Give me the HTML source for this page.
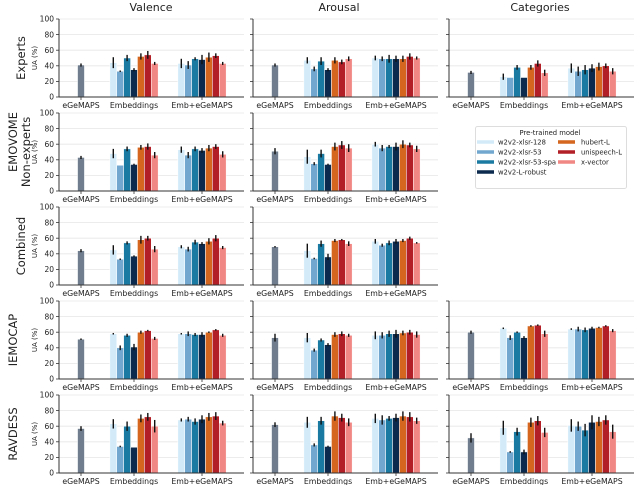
<!DOCTYPE html>
<html><head><meta charset="utf-8">
<style>
html,body{margin:0;padding:0;background:#fff;}
svg{display:block;font-family:"DejaVu Sans","Liberation Sans",sans-serif;}
</style></head>
<body>
<svg id="chart" width="640" height="485" viewBox="0 0 640 485" xmlns="http://www.w3.org/2000/svg">
  <g id="plots"></g>
  <g id="labels" font-size="8" fill="#222">
    <text x="151" y="11" text-anchor="middle" font-size="11">Valence</text>
    <text x="339" y="11" text-anchor="middle" font-size="11">Arousal</text>
    <text x="540" y="11" text-anchor="middle" font-size="11">Categories</text>
    <text transform="translate(25,58) rotate(-90)" text-anchor="middle" font-size="11.5">Experts</text>
    <text transform="translate(17,142) rotate(-90)" text-anchor="middle" font-size="11.5">EMOVOME</text>
    <text transform="translate(30,152) rotate(-90)" text-anchor="middle" font-size="11.5">Non-experts</text>
    <text transform="translate(25,246) rotate(-90)" text-anchor="middle" font-size="11.5">Combined</text>
    <text transform="translate(17,340) rotate(-90)" text-anchor="middle" font-size="11.5">IEMOCAP</text>
    <text transform="translate(17,434) rotate(-90)" text-anchor="middle" font-size="11.5">RAVDESS</text>
  </g>
  <g id="legend">
    <rect x="475.5" y="126.5" width="151" height="62" rx="2" fill="#fff" stroke="#ddd" stroke-width="1"/>
    <text x="550" y="135" text-anchor="middle" font-size="6.8" fill="#222">Pre-trained model</text>
  </g>
</svg>
<script>
const models = ["w2v2-xlsr-128","w2v2-xlsr-53","w2v2-xlsr-53-spa","w2v2-L-robust","hubert-L","unispeech-L","x-vector"];
const groups = ["eGeMAPS","Embeddings","Emb+eGeMAPS"];
const yTicks = [0,20,40,60,80,100];
const egeVal = [[41,41,31.5],[43,51,null],[44,49,null],[51,53,60],[57,62,45]];
const egeErr = [[2,2,2],[2,4,null],[2,1,null],[1,5,2],[3,3,6]];
const embVal = [
 [[44,33,50,35,52,54,43],[47,36,46,35,47,45,49],[26,25,38,25,38,43,31]],
 [[48,33,54,34,56,57,46],[44,35,48,34,57,59,55],null],
 [[45,33,54,37,58,60,46],[44,34,53,36,57,58,53],null],
 [[58,40,56,41,60,62,52],[53,37,50,44,57,58,56],[65,53,60,53,68,69,58]],
 [[63,34,60,33,70,72,60],[65,36,67,34,73,71,65],[58,27,53,27,65,67,52]]];
const embErr = [
 [[7,1,4,2,4,5,2],[4,3,5,2,4,3,3],[4,0,3,0,3,4,4]],
 [[6,0,3,1,3,4,4],[9,2,5,1,5,5,5],null],
 [[6,1,2,1,5,3,4],[9,1,4,4,2,1,3],null],
 [[1,3,2,4,2,1,2],[6,2,2,2,3,3,2],[1,3,1,2,1,1,4]],
 [[6,1,6,0,5,5,8],[7,2,5,1,6,5,5],[9,1,5,3,6,6,6]]];
const combVal = [
 [[43,41,49,48,51,53,43],[50,49,49,49,49,52,50],[37,33,35,37,39,40,33]],
 [[53,46,54,52,55,57,47],[60,55,57,57,60,59,54],null],
 [[49,46,55,53,56,60,48],[56,51,54,56,57,60,54],null],
 [[58,58,57,57,60,63,56],[56,56,58,58,59,60,57],[64,64,63,65,66,68,62]],
 [[68,69,66,69,72,73,64],[70,68,70,71,73,72,67],[61,60,55,65,66,68,53]]];
const combErr = [
 [[6,5,2,6,6,3,2],[3,3,5,4,4,4,2],[6,6,6,5,5,3,4]],
 [[4,4,3,3,4,3,4],[3,4,2,5,5,3,4],null],
 [[2,3,3,2,4,4,2],[3,2,3,3,2,2,1],null],
 [[1,3,2,3,1,1,2],[5,4,4,5,3,3,4],[1,3,3,2,1,1,2]],
 [[2,3,4,5,5,5,3],[6,6,3,5,6,6,4],[8,6,8,9,6,6,9]]];

const colors = ["#d3ebf9","#72a8cf","#1b7aa1","#0b2a4d","#d4661f","#b21f26","#f08784"];
const egeColor = "#6f7d8e";
const NS = "http://www.w3.org/2000/svg";
const colLeft = [59,253,449], panelW = 185;
const rowTop = [19,113,207,301,395], panelH = 78;
const groupOff = [22,75,143];
const step = 6.9;
const plots = document.getElementById('plots');
function mk(tag, attrs, parent){const e=document.createElementNS(NS,tag);for(const k in attrs)e.setAttribute(k,attrs[k]);(parent||plots).appendChild(e);return e;}
function yScale(r,v){return rowTop[r]+panelH - v/100*panelH;}

function drawBar(g, r, cx, v, err, color, name){
  const y0=yScale(r,0), y=yScale(r,v);
  const b=mk('rect',{x:cx-step/2,y:y,width:step,height:y0-y,fill:color,stroke:'#fff','stroke-width':0.5},g);
  
  
  if(err>0){
    const l=mk('line',{x1:cx,x2:cx,y1:yScale(r,v+err),y2:yScale(r,v-err),stroke:'#111','stroke-width':1.4},g);
    
    
  }
}

for(let r=0;r<5;r++){
  for(let c=0;c<3;c++){
    if(egeVal[r][c]===null) continue;
    const L=colLeft[c], B=yScale(r,0);
    const g=mk('g',{});
    
    
    yTicks.forEach(t=>{
      const y=yScale(r,t);
      if(t>0){const gl=mk('line',{x1:L,x2:L+panelW,y1:y,y2:y,stroke:'#e6e6e6','stroke-width':0.8},g);
         }
      mk('line',{x1:L-3,x2:L,y1:y,y2:y,stroke:'#333','stroke-width':0.8},g);
      if(c===0){const tx=mk('text',{x:L-5,y:y+2.7,'text-anchor':'end','font-size':7.5,fill:'#222'},g);tx.textContent=t;
         }
    });
    if(c===0){const ya=mk('text',{transform:`translate(${L-22},${rowTop[r]+panelH/2}) rotate(-90)`,'text-anchor':'middle','font-size':7,fill:'#222'},g);
      ya.textContent='UA (%)';  }
    drawBar(g,r,L+groupOff[0],egeVal[r][c],egeErr[r][c],egeColor,'bar-egemaps');
    for(let m=0;m<7;m++){
      drawBar(g,r,L+groupOff[1]+(m-3)*step,embVal[r][c][m],embErr[r][c][m],colors[m],'bar-emb-'+models[m]);
      drawBar(g,r,L+groupOff[2]+(m-3)*step,combVal[r][c][m],combErr[r][c][m],colors[m],'bar-emb-egemaps-'+models[m]);
    }
    mk('line',{x1:L,x2:L,y1:rowTop[r],y2:B,stroke:'#333','stroke-width':1},g);
    mk('line',{x1:L,x2:L+panelW,y1:B,y2:B,stroke:'#333','stroke-width':1},g);
    groups.forEach((gn,i)=>{
      const x=L+groupOff[i];
      mk('line',{x1:x,x2:x,y1:B,y2:B+3,stroke:'#333','stroke-width':0.8},g);
      const t=mk('text',{x:x,y:B+11,'text-anchor':'middle','font-size':7.8,fill:'#222'},g);
      t.textContent=gn;
       
    });
  }
}
const leg=document.getElementById('legend');
models.forEach((m,i)=>{
  const col=i<4?0:1, row=i<4?i:i-4;
  const hx=col?558:477, y=142+row*10;
  const h=mk('line',{x1:hx,x2:hx+17,y1:y,y2:y,stroke:colors[i],'stroke-width':3.5},leg);
   
  const t=mk('text',{x:hx+(col?23:11)+ (col?0:0),y:y+2.4,'font-size':6.8,fill:'#222'},leg);
  t.setAttribute('x', col?581:498);
  t.textContent=m;
   
});
</script>
</body></html>
